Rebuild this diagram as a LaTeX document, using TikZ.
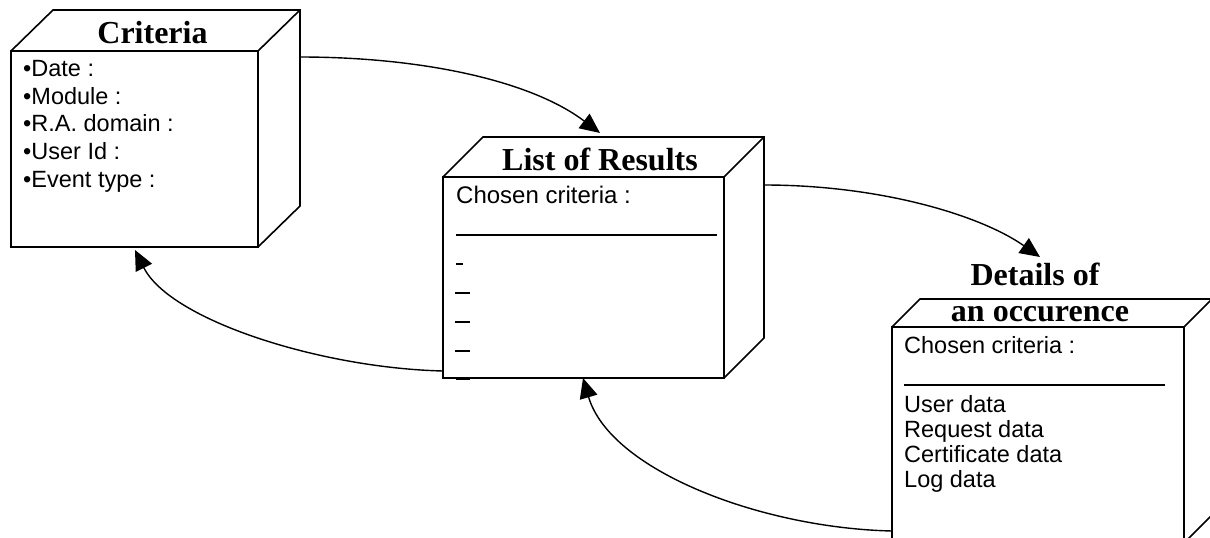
\documentclass[tikz,border=0pt]{standalone}
\usepackage{fontspec}
\setmainfont{Liberation Serif}
\newfontfamily\arialfont{Liberation Sans}
\usetikzlibrary{arrows.meta,calc}

\newcommand{\titlesize}{\bfseries\fontsize{32}{36}\selectfont}
\newcommand{\itemsize}{\arialfont\fontsize{23.5}{27}\selectfont}

\tikzset{
  frontbox/.style={draw, rectangle, line width=1.6pt, fill=white,
    outer sep=0pt, inner sep=0pt, anchor=north west},
  face/.style={line width=1.6pt, line join=miter},
  boxtitle/.style={font=\titlesize, inner sep=0pt, anchor=base},
  item/.style={font=\itemsize, inner sep=0pt, anchor=base west},
  rulerline/.style={line width=1.8pt},
  dashmark/.style={line width=2pt},
  flow/.style={line width=1.4pt, -{Triangle[length=20pt,width=18pt]}}
}

\begin{document}
\begin{tikzpicture}[x=1pt,y=-1pt]
\useasboundingbox (0,0) rectangle (1210,538);
\clip (0,0) rectangle (1210,538);
\fill[white] (0,0) rectangle (1210,538);

% ---- Criteria cube ----
\node[frontbox, minimum width=247pt, minimum height=196pt] (crit) at (11,51) {};
\draw[face] (crit.north west) -- ++(42,-41) -- ($(crit.north east)+(42,-41)$)
  -- ($(crit.south east)+(42,-41)$) -- (crit.south east);
\draw[face] (crit.north east) -- ++(42,-41);
\node[boxtitle] (crittitle) at (152.5,43) {Criteria};
\node[item] (c1) at (23,76) {•Date :};
\node[item] (c2) at (23,104) {•Module :};
\node[item] (c3) at (23,131.5) {•R.A. domain :};
\node[item] (c4) at (23,159) {•User Id :};
\node[item] (c5) at (23,187) {•Event type :};

% ---- List of Results cube ----
\node[frontbox, minimum width=281pt, minimum height=201pt] (list) at (443,177) {};
\draw[face] (list.north west) -- ++(40,-40) -- ($(list.north east)+(40,-40)$)
  -- ($(list.south east)+(40,-40)$) -- (list.south east);
\draw[face] (list.north east) -- ++(40,-40);
\node[boxtitle] (listtitle) at (600,170) {List of Results};
\node[item, font=\arialfont\fontsize{24}{28}\selectfont] (l1) at (456,203) {Chosen criteria :};
\draw[rulerline] (456,235) -- (717,235);
\draw[dashmark] (456,264) -- (463,264);
\draw[dashmark] (455,293) -- (470,293);
\draw[dashmark] (455,322) -- (470,322);
\draw[dashmark] (455,351) -- (470,351);
\draw[dashmark] (456,379) -- (470,379);

% ---- Details cube ----
\node[frontbox, minimum width=292pt, minimum height=216pt] (det) at (892,327) {};
\draw[face] (det.north west) -- ++(28,-28) -- ($(det.north east)+(28,-28)$)
  -- ($(det.south east)+(28,-28)$) -- (det.south east);
\draw[face] (det.north east) -- ++(28,-28);
\node[boxtitle] (dettitle1) at (1035,285) {Details of};
\node[boxtitle] (dettitle2) at (1040,321) {an occurence};
\node[item] (d1) at (904,353) {Chosen criteria :};
\draw[rulerline] (904,385) -- (1165,385);
\node[item] (d2) at (904,412) {User data};
\node[item] (d3) at (904,437) {Request data};
\node[item] (d4) at (904,462) {Certificate data};
\node[item] (d5) at (904,487) {Log data};

% ---- connectors ----
\draw[flow] ($(crit.north east)+(42,6)$) .. controls +(120,0) and +(-70,-53)
  .. ($(list.north west)+(157,-44)$);
\draw[flow] ($(list.north east)+(40,8)$) .. controls +(116,0) and +(-60,-42)
  .. ($(det.north west)+(148,-70)$);
\draw[flow] ($(list.south west)+(0,-7)$) .. controls +(-123,-3) and +(35,70)
  .. ($(crit.south west)+(124,3)$);
\draw[flow] ($(det.north west)+(0,204)$) .. controls +(-132,-3) and +(27,92)
  .. ($(list.south west)+(140,0)$);
\end{tikzpicture}
\end{document}
